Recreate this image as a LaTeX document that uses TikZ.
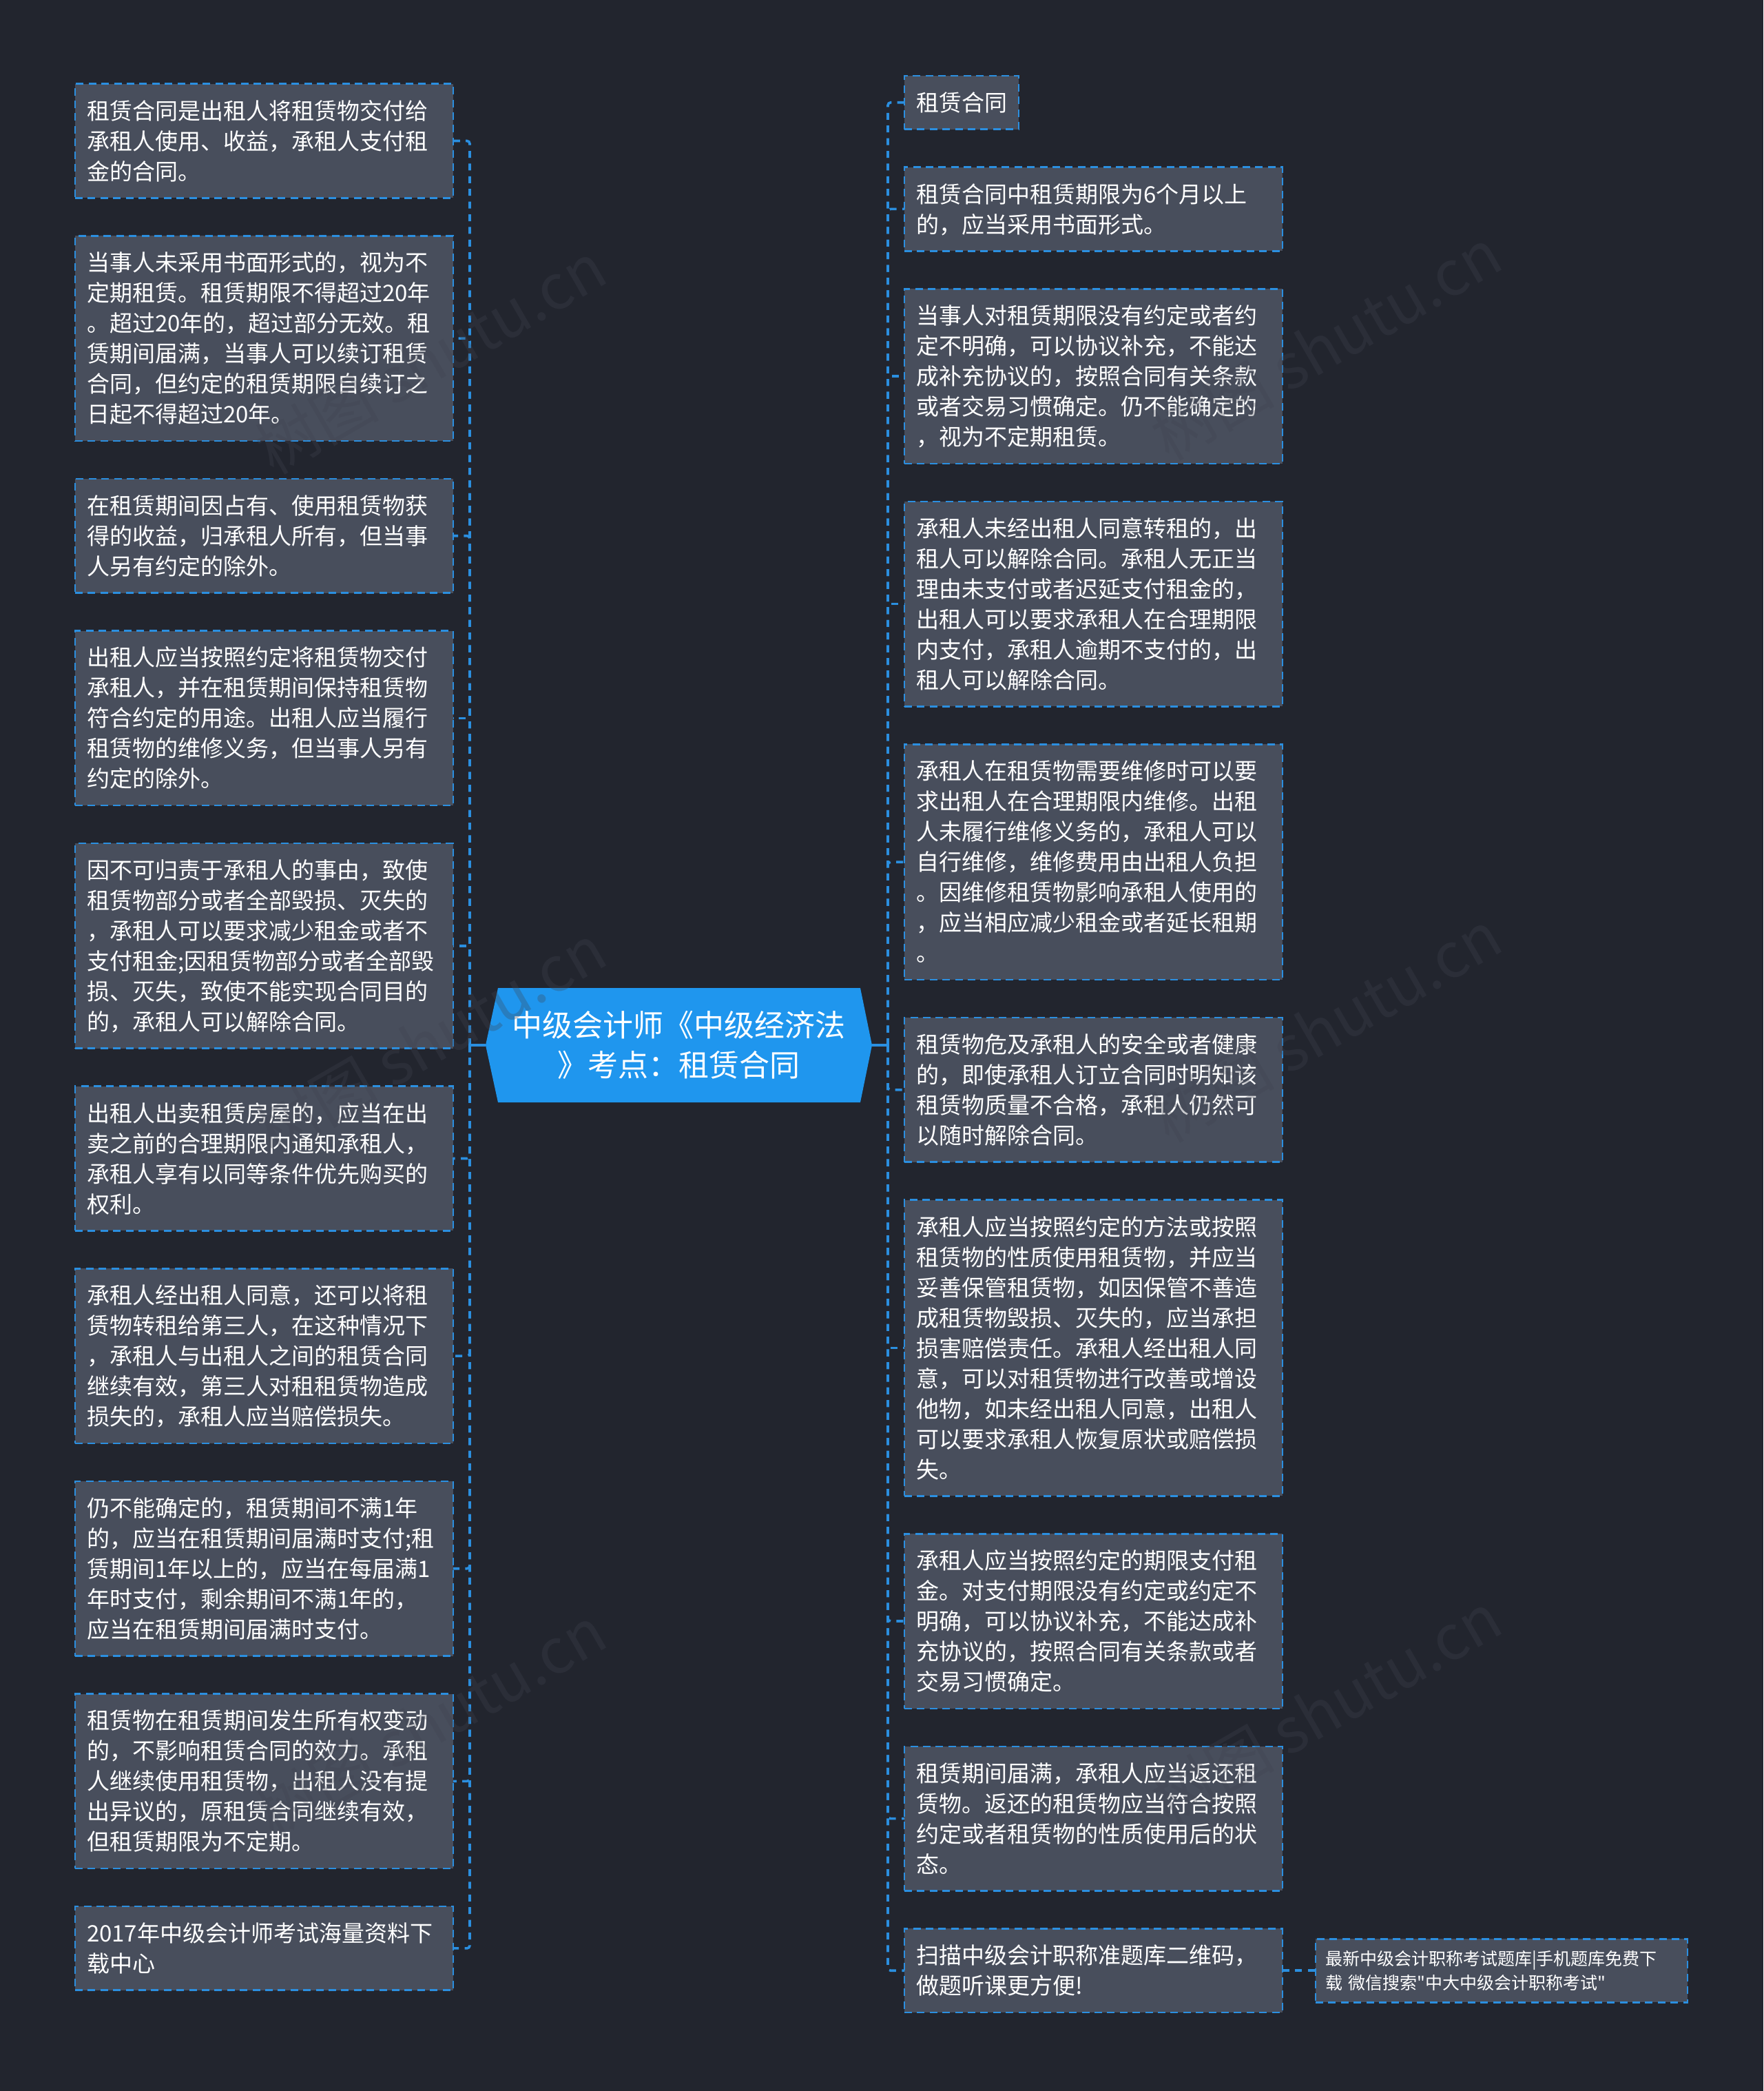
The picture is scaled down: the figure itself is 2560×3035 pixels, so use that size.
\documentclass[tikz,border=0pt]{standalone}
\usepackage{fontspec}
\setmainfont{Noto Sans CJK SC}[Ligatures=TeXOff]
\usetikzlibrary{positioning,calc}
\definecolor{bgc}{HTML}{22252E}
\definecolor{boxc}{HTML}{484E5C}
\definecolor{linec}{HTML}{2B8FE0}
\definecolor{rootc}{HTML}{1F96EE}
\definecolor{wmc}{HTML}{404450}
\newcommand\bstr{\rule[-4.7pt]{0pt}{22pt}}
\newcommand\sstr{\rule[-4pt]{0pt}{17.5pt}}
\begin{document}
\begin{tikzpicture}[x=0.5pt,y=-0.5pt,
  basebox/.style={draw=linec, line width=1.3pt, dash pattern=on 5.5pt off 3.7pt,
    fill=boxc, text=white, align=left, outer sep=0pt},
  box/.style={basebox, text width=257.5pt, inner xsep=8.5pt, inner ysep=8.4pt,
    font=\fontsize{16.5pt}{22pt}\selectfont,
    execute at begin node=\bstr, execute at end node=\bstr},
  fbox/.style={basebox, text width=256pt, inner xsep=7pt, inner ysep=5.5pt,
    font=\fontsize{12.5pt}{17.5pt}\selectfont,
    execute at begin node=\sstr, execute at end node=\sstr},
  rootn/.style={minimum width=280.5pt, minimum height=83pt, inner sep=0pt,
    text=white, align=center, font=\fontsize{22pt}{29pt}\selectfont},
  conn/.style={draw=linec, line width=1.8pt, dash pattern=on 5pt off 4.2pt, rounded corners=2pt},
  rootline/.style={draw=linec, line width=2pt},
  wm/.style={text=wmc, opacity=0.3, font=\fontsize{45pt}{50pt}\selectfont, rotate=30},
  gapl/.style={below=27.5pt of #1.south west, anchor=north west}
]
\useasboundingbox (0,0) rectangle (2560,3035);
\fill[bgc] (0,0) rectangle (2560,3035);

% root
\coordinate (rc) at (985.5,1517);
\fill[rootc] ($(rc)+(-280.5,0)$) -- ($(rc)+(-262.5,-83)$) -- ($(rc)+(263.5,-83)$)
  -- ($(rc)+(280.5,0)$) -- ($(rc)+(263.5,83)$) -- ($(rc)+(-262.5,83)$) -- cycle;
\node[rootn] (root) at (rc) {中级会计师《中级经济法\\》考点：租赁合同};

\coordinate (lsp) at (682,1517);
\coordinate (rsp) at (1289,1517);

% left column
\node[box, anchor=north west] (L1) at (109,121.7) {租赁合同是出租人将租赁物交付给\\承租人使用、收益，承租人支付租\\金的合同。};
\node[box, gapl=L1] (L2) {当事人未采用书面形式的，视为不\\定期租赁。租赁期限不得超过20年\\。超过20年的，超过部分无效。租\\赁期间届满，当事人可以续订租赁\\合同，但约定的租赁期限自续订之\\日起不得超过20年。};
\node[box, gapl=L2] (L3) {在租赁期间因占有、使用租赁物获\\得的收益，归承租人所有，但当事\\人另有约定的除外。};
\node[box, gapl=L3] (L4) {出租人应当按照约定将租赁物交付\\承租人，并在租赁期间保持租赁物\\符合约定的用途。出租人应当履行\\租赁物的维修义务，但当事人另有\\约定的除外。};
\node[box, gapl=L4] (L5) {因不可归责于承租人的事由，致使\\租赁物部分或者全部毁损、灭失的\\，承租人可以要求减少租金或者不\\支付租金;因租赁物部分或者全部毁\\损、灭失，致使不能实现合同目的\\的，承租人可以解除合同。};
\node[box, gapl=L5] (L6) {出租人出卖租赁房屋的，应当在出\\卖之前的合理期限内通知承租人，\\承租人享有以同等条件优先购买的\\权利。};
\node[box, gapl=L6] (L7) {承租人经出租人同意，还可以将租\\赁物转租给第三人，在这种情况下\\，承租人与出租人之间的租赁合同\\继续有效，第三人对租租赁物造成\\损失的，承租人应当赔偿损失。};
\node[box, gapl=L7] (L8) {仍不能确定的，租赁期间不满1年\\的，应当在租赁期间届满时支付;租\\赁期间1年以上的，应当在每届满1\\年时支付，剩余期间不满1年的，\\应当在租赁期间届满时支付。};
\node[box, gapl=L8] (L9) {租赁物在租赁期间发生所有权变动\\的，不影响租赁合同的效力。承租\\人继续使用租赁物，出租人没有提\\出异议的，原租赁合同继续有效，\\但租赁期限为不定期。};
\node[box, gapl=L9] (L10) {2017年中级会计师考试海量资料下\\载中心};

% right column
\node[box, text width=66pt, anchor=north west] (R1) at (1313,110) {租赁合同};
\node[box, gapl=R1] (R2) {租赁合同中租赁期限为6个月以上\\的，应当采用书面形式。};
\node[box, gapl=R2] (R3) {当事人对租赁期限没有约定或者约\\定不明确，可以协议补充，不能达\\成补充协议的，按照合同有关条款\\或者交易习惯确定。仍不能确定的\\，视为不定期租赁。};
\node[box, gapl=R3] (R4) {承租人未经出租人同意转租的，出\\租人可以解除合同。承租人无正当\\理由未支付或者迟延支付租金的，\\出租人可以要求承租人在合理期限\\内支付，承租人逾期不支付的，出\\租人可以解除合同。};
\node[box, gapl=R4] (R5) {承租人在租赁物需要维修时可以要\\求出租人在合理期限内维修。出租\\人未履行维修义务的，承租人可以\\自行维修，维修费用由出租人负担\\。因维修租赁物影响承租人使用的\\，应当相应减少租金或者延长租期\\。};
\node[box, gapl=R5] (R6) {租赁物危及承租人的安全或者健康\\的，即使承租人订立合同时明知该\\租赁物质量不合格，承租人仍然可\\以随时解除合同。};
\node[box, gapl=R6] (R7) {承租人应当按照约定的方法或按照\\租赁物的性质使用租赁物，并应当\\妥善保管租赁物，如因保管不善造\\成租赁物毁损、灭失的，应当承担\\损害赔偿责任。承租人经出租人同\\意，可以对租赁物进行改善或增设\\他物，如未经出租人同意，出租人\\可以要求承租人恢复原状或赔偿损\\失。};
\node[box, gapl=R7] (R8) {承租人应当按照约定的期限支付租\\金。对支付期限没有约定或约定不\\明确，可以协议补充，不能达成补\\充协议的，按照合同有关条款或者\\交易习惯确定。};
\node[box, gapl=R8] (R9) {租赁期间届满，承租人应当返还租\\赁物。返还的租赁物应当符合按照\\约定或者租赁物的性质使用后的状\\态。};
\node[box, gapl=R9] (R10) {扫描中级会计职称准题库二维码，\\做题听课更方便!};

\node[fbox, right=24pt of R10.east, anchor=west] (F) {最新中级会计职称考试题库|手机题库免费下\\载 微信搜索"中大中级会计职称考试"};

% connectors
\draw[rootline] (root.west) -- (lsp);
\draw[rootline] (root.east) -- (rsp);
\foreach \i in {1,...,10} {
  \draw[conn] (lsp) |- (L\i.east);
  \draw[conn] (rsp) |- (R\i.west);
}
\draw[conn] (R10.east) -- (F.west);

% watermarks
\node[wm] (w1) at (625,520) {树图 shutu.cn};
\node[wm] (w2) at (1925,500) {树图 shutu.cn};
\node[wm] (w3) at (625,1510) {树图 shutu.cn};
\node[wm] (w4) at (1925,1490) {树图 shutu.cn};
\node[wm] (w5) at (625,2500) {树图 shutu.cn};
\node[wm] (w6) at (1925,2480) {树图 shutu.cn};
\end{tikzpicture}
\end{document}
